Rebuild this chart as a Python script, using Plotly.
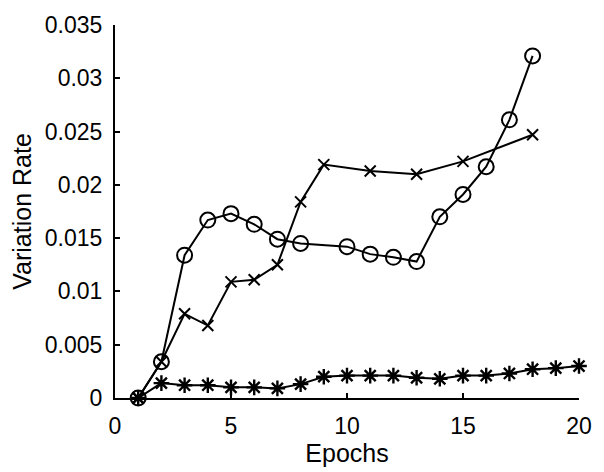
import plotly.graph_objects as go

# Variation rate per training epoch for three runs
epochs_circle = [1, 2, 3, 4, 5, 6, 7, 8, 10, 11, 12, 13, 14, 15, 16, 17, 18]
rate_circle = [0.0, 0.0034, 0.0134, 0.0167, 0.0173, 0.0163, 0.0149, 0.0145,
               0.0142, 0.0135, 0.0132, 0.0128, 0.0170, 0.0191, 0.0217, 0.0261, 0.0321]

epochs_cross = [1, 2, 3, 4, 5, 6, 7, 8, 9, 11, 13, 15, 18]
rate_cross = [0.0, 0.0034, 0.0079, 0.0068, 0.0109, 0.0111, 0.0125, 0.0184,
              0.0219, 0.0213, 0.0210, 0.0222, 0.0247]

epochs_star = list(range(1, 21))
rate_star = [0.0, 0.0014, 0.0012, 0.0012, 0.0010, 0.0010, 0.0009, 0.0013, 0.0020, 0.0021,
             0.0021, 0.0021, 0.0019, 0.0018, 0.0021, 0.0021, 0.0023, 0.0027, 0.0028, 0.0030]

x_ticks = [0, 5, 10, 15, 20]
y_ticks = [0, 0.005, 0.01, 0.015, 0.02, 0.025, 0.03, 0.035]
y_tick_text = ["0", "0.005", "0.01", "0.015", "0.02", "0.025", "0.03", "0.035"]

FONT = "Liberation Sans, Arial, Helvetica, sans-serif"
INK = "black"

fig = go.Figure()

fig.add_trace(go.Scatter(
    x=epochs_star, y=rate_star, mode="lines+markers", cliponaxis=False,
    line=dict(color=INK, width=2),
    marker=dict(symbol="asterisk-open", size=13, line=dict(color=INK, width=2.4)),
))
fig.add_trace(go.Scatter(
    x=epochs_cross, y=rate_cross, mode="lines+markers", cliponaxis=False,
    line=dict(color=INK, width=2),
    marker=dict(symbol="x-thin-open", size=11, line=dict(color=INK, width=2)),
))
fig.add_trace(go.Scatter(
    x=epochs_circle, y=rate_circle, mode="lines+markers", cliponaxis=False,
    line=dict(color=INK, width=2),
    marker=dict(symbol="circle-open", size=15, color=INK, line=dict(color=INK, width=2)),
))

fig.update_layout(
    width=604, height=472,
    margin=dict(l=115, r=22, t=18, b=72),
    paper_bgcolor="white", plot_bgcolor="white",
    showlegend=False,
    font=dict(family=FONT, color=INK, size=22),
)

fig.update_xaxes(
    range=[0, 20], tickvals=x_ticks, ticktext=[str(v) for v in x_ticks],
    showgrid=False, zeroline=False,
    showline=True, linecolor=INK, linewidth=2,
    ticks="inside", ticklen=5, tickwidth=1.5, tickcolor=INK,
    tickfont=dict(size=23), ticklabelstandoff=6,
    title=dict(text="Epochs", font=dict(size=25), standoff=4),
)
fig.update_yaxes(
    range=[0, 0.035], tickvals=y_ticks, ticktext=y_tick_text,
    showgrid=False, zeroline=False,
    showline=True, linecolor=INK, linewidth=2,
    ticks="inside", ticklen=5, tickwidth=1.5, tickcolor=INK,
    tickfont=dict(size=23), ticklabelstandoff=6,
    title=dict(text="Variation Rate", font=dict(size=25), standoff=6),
)

fig.write_html("out.html")
